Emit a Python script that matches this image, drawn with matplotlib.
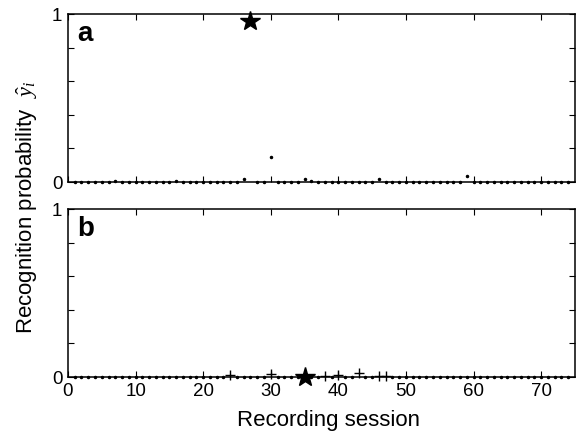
import matplotlib
matplotlib.use('Agg')
import matplotlib.pyplot as plt
import numpy as np

plt.rcParams['font.family'] = ['Liberation Sans', 'DejaVu Sans']
plt.rcParams['mathtext.fontset'] = 'custom'
plt.rcParams['mathtext.it'] = 'Liberation Serif:italic'
plt.rcParams['mathtext.rm'] = 'Liberation Serif'

# recording sessions 1..74
sessions = np.arange(1, 75)

# panel a: recognition probability per session
prob_a = np.zeros(len(sessions))
raised_a = {7: 0.005, 16: 0.008, 26: 0.02, 30: 0.15, 35: 0.02,
            36: 0.006, 46: 0.02, 59: 0.035}
for s, v in raised_a.items():
    prob_a[s - 1] = v
star_a_x = 27
star_a_y = 0.96

# panel b: sessions drawn as crosses, the rest as dots
cross_b = [24, 30, 38, 40, 43, 46, 47]
cross_b_y = [0.014, 0.016, 0.008, 0.01, 0.026, 0.005, 0.005]
prob_b = np.zeros(len(sessions))
star_b_x = 35
star_b_y = 0.0

xticks = np.arange(0, 71, 10)


def style_axes(ax, show_xlabels):
    ax.set_xlim(0, 75)
    ax.set_ylim(0, 1)
    ax.set_xticks(xticks)
    ax.set_yticks([0, 1])
    ax.set_yticks([0.2, 0.4, 0.6, 0.8], minor=True)
    ax.set_yticklabels(['0', '1'])
    ax.tick_params(which='both', direction='in', top=True, right=True,
                   length=4, width=0.8, labelsize=13.5, pad=4)
    if not show_xlabels:
        ax.set_xticklabels([])
    for sp in ax.spines.values():
        sp.set_linewidth(1.1)


fig = plt.figure(figsize=(5.81, 4.34), dpi=100)
ax1 = fig.add_axes([0.117, 0.5806, 0.8726, 0.387])
ax2 = fig.add_axes([0.117, 0.1313, 0.8726, 0.387])

# panel a
mask_a = sessions != star_a_x
ax1.plot(sessions[mask_a], prob_a[mask_a], '.', color='black',
         markersize=3, clip_on=False)
ax1.plot([star_a_x], [star_a_y], '*', color='black', markersize=15,
         clip_on=False)
style_axes(ax1, False)
ax1.text(0.018, 0.841, 'a', transform=ax1.transAxes, fontsize=20,
         fontweight='bold', va='baseline', ha='left')

# panel b
mask_b = ~np.isin(sessions, cross_b + [star_b_x])
ax2.plot(sessions[mask_b], prob_b[mask_b], '.', color='black',
         markersize=3, clip_on=False)
ax2.plot(cross_b, cross_b_y, '+', color='black', markersize=7.5,
         markeredgewidth=1.0, clip_on=False)
ax2.plot([star_b_x], [star_b_y], '*', color='black', markersize=15,
         clip_on=False)
style_axes(ax2, True)
ax2.text(0.018, 0.841, 'b', transform=ax2.transAxes, fontsize=20,
         fontweight='bold', va='baseline', ha='left')

fig.text(0.566, 0.0184, 'Recording session', fontsize=16,
         ha='center', va='baseline')
fig.text(0.046, 0.523, r'Recognition probability  $\hat{y}_i$',
         rotation=90, fontsize=16, ha='center', va='center')

fig.savefig('out.png', dpi=100)
